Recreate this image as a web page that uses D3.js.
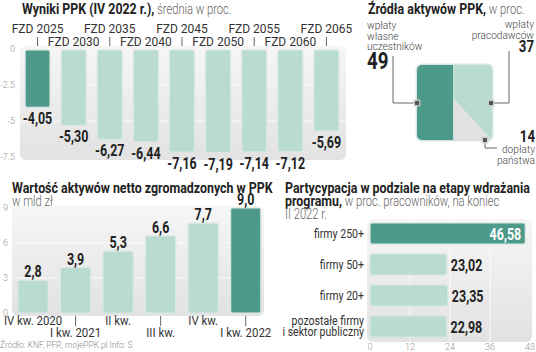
<!DOCTYPE html>
<html>
<head>
<meta charset="utf-8">
<style>
  body { margin: 0; background: #fff; }
  svg { display: block; }
  text { font-family: Roboto, sans-serif; }
  .t1 { font-weight: bold; font-size: 15.5px; fill: #222; }
  .t2 { font-size: 14px; fill: #666; font-weight: 300; }
  .lab { font-size: 12px; fill: #333; }
  .note { font-size: 11.5px; fill: #444; font-weight: 300; }
  .tick { font-size: 9px; fill: #999; font-weight: 300; }
  .val { font-weight: bold; font-size: 16px; fill: #222; }
</style>
</head>
<body>
<svg width="536" height="352"></svg>
<script src="https://d3js.org/d3.v7.min.js"></script>
<script>
const fundLabels = ["FZD 2025", "FZD 2030", "FZD 2035", "FZD 2040", "FZD 2045", "FZD 2050", "FZD 2055", "FZD 2060", "FZD 2065"];
const fundValues = [-4.05, -5.30, -6.27, -6.44, -7.16, -7.19, -7.14, -7.12, -5.69];
const fundTicks = [0, -2.5, -5, -7.5];

const sourceLabels = [["wpłaty", "własne", "uczestników"], ["wpłaty", "pracodawców"], ["dopłaty", "państwa"]];
const sourceValues = [49, 37, 14];

const assetLabels = ["IV kw. 2020", "I kw. 2021", "II kw.", "III kw.", "IV kw.", "I kw. 2022"];
const assetValues = [2.8, 3.9, 5.3, 6.6, 7.7, 9.0];
const assetTicks = [0, 3, 6, 9];

const partLabels = [["firmy 250+"], ["firmy 50+"], ["firmy 20+"], ["pozostałe firmy", "i sektor publiczny"]];
const partValues = [46.58, 23.02, 23.35, 22.98];
const partTicks = [0, 12, 24, 36, 48];

const dark = "#4d9a8a", light = "#b9dbd2", edge = "#d9e7e3";
const K = 0.78; // narrow look of the bold numbers and titles
const comma = (f) => (v) => d3.format(f)(v).replace(".", ",").replace("−", "-");
const tr = (x, y, k) => `translate(${x},${y}) scale(${k},1)`;

const svg = d3.select("svg");

// background gradient
const defs = svg.append("defs");
const grad = defs.append("linearGradient").attr("id", "bg").attr("x1", 0).attr("y1", 0).attr("x2", 0).attr("y2", 1);
grad.append("stop").attr("offset", "0%").attr("stop-color", "#f6f6f6");
grad.append("stop").attr("offset", "100%").attr("stop-color", "#e2e2e2");

function title(g, x, y, lines) {
  lines.forEach((ln, i) => {
    const t = g.append("text").attr("transform", tr(x, y + i * 13, 0.8));
    if (ln[0]) t.append("tspan").attr("class", "t1").text(ln[0]);
    if (ln[1]) t.append("tspan").attr("class", "t2").text(ln[1]);
  });
}

// ---- panel 1: fund results
{
  const g = svg.append("g");
  title(g, 22, 14, [["Wyniki PPK (IV 2022 r.),", " średnia w proc."]]);

  const x = d3.scaleBand().domain(fundLabels).range([19.5, 344.5]).paddingInner(0.31).paddingOuter(0.155);
  const y = d3.scaleLinear().domain([-7.5, 0]).range([157, 49]);

  g.append("rect").attr("x", 20).attr("y", 46).attr("width", 326).attr("height", 114)
    .attr("rx", 6).attr("fill", "url(#bg)");

  g.selectAll(".grid").data(fundTicks.slice(1, 3)).join("line")
    .attr("x1", 20).attr("x2", 346).attr("y1", d => y(d)).attr("y2", d => y(d))
    .attr("stroke", "#fff").attr("stroke-width", 0.8);

  g.selectAll(".tk").data(fundTicks).join("text").attr("class", "tick")
    .attr("x", 15).attr("y", d => y(d) + 3).attr("text-anchor", "end")
    .text(d => d);

  g.selectAll(".bar").data(fundValues).join("rect")
    .attr("x", (d, i) => x(fundLabels[i])).attr("width", x.bandwidth())
    .attr("y", y(0) + 1).attr("height", d => y(d) - y(0) - 1)
    .attr("rx", 2).attr("fill", (d, i) => i === 0 ? dark : light)
    .attr("stroke", edge).attr("stroke-width", 1.2);

  g.selectAll(".v").data(fundValues).join("text").attr("class", "val")
    .attr("transform", (d, i) => tr(x(fundLabels[i]) + x.bandwidth() / 2, y(d) + 17, K))
    .attr("text-anchor", "middle")
    .text(comma(".2f"));

  fundLabels.forEach((l, i) => {
    const cx = x(l) + x.bandwidth() / 2;
    const ty = i % 2 === 0 ? 33 : 46;
    g.append("text").attr("class", "lab").attr("x", cx).attr("y", ty).attr("text-anchor", "middle").text(l);
    if (i % 2 === 0) g.append("line").attr("x1", cx).attr("x2", cx).attr("y1", 37).attr("y2", 46).attr("stroke", "#666");
  });
}

// ---- panel 2: sources square
{
  const g = svg.append("g");
  title(g, 368, 14, [["Źródła aktywów PPK,", " w proc."]]);
  const S = 75, x0 = 417, y0 = 65;
  const total = d3.sum(sourceValues);
  const sx = d3.scaleLinear().domain([0, total]).range([0, S]);
  const wA = sx(sourceValues[0]);
  const wB = S - wA;
  const hC = 2 * (sourceValues[2] / total) * S * S / wB;

  g.append("rect").attr("x", x0 - 1.5).attr("y", y0 - 1.5).attr("width", S + 3).attr("height", S + 3).attr("rx", 6).attr("fill", edge);
  const clip = defs.append("clipPath").attr("id", "sq");
  clip.append("rect").attr("x", x0).attr("y", y0).attr("width", S).attr("height", S).attr("rx", 5);
  const sq = g.append("g").attr("clip-path", "url(#sq)");
  sq.append("rect").attr("x", x0).attr("y", y0).attr("width", wA).attr("height", S).attr("fill", dark);
  sq.append("rect").attr("x", x0 + wA).attr("y", y0).attr("width", wB).attr("height", S).attr("fill", light);
  sq.append("path").attr("d", d3.line()([[x0 + wA, y0 + S - hC], [x0 + S, y0 + S], [x0 + wA, y0 + S]]) + "Z").attr("fill", "#e2e2e2");
  sq.append("line").attr("x1", x0 + wA).attr("x2", x0 + wA).attr("y1", y0).attr("y2", y0 + S).attr("stroke", edge).attr("stroke-width", 1);

  const leaders = [
    [[393, 56], [393, 103], [x0, 103]],
    [[509, 51], [509, 103], [x0 + S - 1, 103]],
    [[497, 148], [485, 148], [485, 140]]
  ];
  leaders.forEach(p => {
    g.append("path").attr("d", d3.line()(p)).attr("fill", "none").attr("stroke", "#555").attr("stroke-width", 0.9);
    const e = p[p.length - 1];
    g.append("rect").attr("x", e[0] - 3.5).attr("y", e[1] - 3.5).attr("width", 7).attr("height", 7).attr("fill", "#ccc").attr("opacity", 0.8);
    g.append("rect").attr("x", e[0] - 2).attr("y", e[1] - 2).attr("width", 4).attr("height", 4).attr("fill", "#555");
  });

  const lp = [
    { x: 367, y: 29, anchor: "start", vy: 69, size: 24 },
    { x: 534, y: 28, anchor: "end", vy: 52, size: 17 },
    { x: 535, y: 153, anchor: "end", vy: 142, size: 17 }
  ];
  sourceLabels.forEach((lines, i) => {
    lines.forEach((ln, j) => {
      g.append("text").attr("class", "note")
        .attr("transform", tr(lp[i].x, lp[i].y + j * 10.5, 0.88))
        .attr("text-anchor", lp[i].anchor).text(ln);
    });
    g.append("text").attr("class", "val").style("font-size", lp[i].size + "px")
      .attr("transform", tr(lp[i].x, lp[i].vy, K))
      .attr("text-anchor", lp[i].anchor).text(sourceValues[i]);
  });
}

// ---- panel 3: net assets
{
  const g = svg.append("g");
  title(g, 12, 193, [["Wartość aktywów netto zgromadzonych w PPK", ""], ["", "w mld zł"]]);
  const x = d3.scaleBand().domain(assetLabels).range([11.75, 267]).paddingInner(0.29).paddingOuter(0.145);
  const y = d3.scaleLinear().domain([0, 9]).range([313, 208]);

  g.append("rect").attr("x", 12).attr("y", 206).attr("width", 252).attr("height", 110).attr("rx", 6).attr("fill", "url(#bg)");
  g.selectAll(".grid").data(assetTicks.slice(1, 3)).join("line")
    .attr("x1", 12).attr("x2", 264).attr("y1", d => y(d)).attr("y2", d => y(d))
    .attr("stroke", "#fff").attr("stroke-width", 0.8);

  g.selectAll(".tk").data(assetTicks).join("text").attr("class", "tick")
    .attr("x", 8).attr("y", d => y(d) + 3).attr("text-anchor", "end").text(d => d);

  g.selectAll(".bar").data(assetValues).join("rect")
    .attr("x", (d, i) => x(assetLabels[i])).attr("width", x.bandwidth())
    .attr("y", d => y(d)).attr("height", d => y(0) - y(d))
    .attr("rx", 2).attr("fill", (d, i) => i === assetValues.length - 1 ? dark : light)
    .attr("stroke", edge).attr("stroke-width", 1.2);

  g.selectAll(".v").data(assetValues).join("text").attr("class", "val")
    .attr("transform", (d, i) => tr(x(assetLabels[i]) + x.bandwidth() / 2, y(d) - 3, K))
    .attr("text-anchor", "middle").text(comma(".1f"));

  assetLabels.forEach((l, i) => {
    const cx = x(l) + x.bandwidth() / 2;
    const ty = i % 2 === 0 ? 325 : 337;
    g.append("text").attr("class", "lab").attr("transform", tr(cx, ty, 0.95)).attr("text-anchor", "middle").text(l);
    if (i % 2 === 1) g.append("line").attr("x1", cx).attr("x2", cx).attr("y1", 316).attr("y2", 326).attr("stroke", "#666");
  });

  g.append("text").attr("class", "tick").style("fill", "#888").style("font-size", "9.5px")
    .attr("transform", tr(0, 348, 0.88))
    .text("Źródło: KNF, PFR, mojePPK.pl  Info: S");
}

// ---- panel 4: participation
{
  const g = svg.append("g");
  title(g, 285, 193, [["Partycypacja w podziale na etapy wdrażania", ""], ["programu,", " w proc. pracowników, na koniec"], ["", "II 2022 r."]]);
  const y = d3.scaleBand().domain(d3.range(partValues.length)).range([218, 342]).paddingInner(0.32).paddingOuter(0.16);
  const x = d3.scaleLinear().domain([0, 48]).range([370, 530]);

  g.append("rect").attr("x", 367).attr("y", 219).attr("width", 165).attr("height", 123).attr("rx", 6).attr("fill", "url(#bg)");
  g.selectAll(".grid").data(partTicks.slice(1, 4)).join("line")
    .attr("x1", d => x(d)).attr("x2", d => x(d)).attr("y1", 219).attr("y2", 342)
    .attr("stroke", "#fff").attr("stroke-width", 0.8);

  g.selectAll(".tk").data(partTicks).join("text").attr("class", "tick")
    .attr("x", d => x(d)).attr("y", 350).attr("text-anchor", "middle").text(d => d);

  g.selectAll(".bar").data(partValues).join("rect")
    .attr("x", x(0)).attr("y", (d, i) => y(i)).attr("height", y.bandwidth())
    .attr("width", d => x(d) - x(0)).attr("rx", 2)
    .attr("fill", (d, i) => i === 0 ? dark : light)
    .attr("stroke", edge).attr("stroke-width", 1.2);

  g.selectAll(".v").data(partValues).join("text").attr("class", "val")
    .attr("transform", (d, i) => tr(i === 0 ? x(d) - 4 : x(d) + 4, y(i) + y.bandwidth() / 2 + 6, K))
    .attr("text-anchor", (d, i) => i === 0 ? "end" : "start")
    .style("fill", (d, i) => i === 0 ? "#fff" : "#222")
    .text(comma(".2f"));

  partLabels.forEach((lines, i) => {
    const cy = y(i) + y.bandwidth() / 2;
    lines.forEach((ln, j) => {
      g.append("text").attr("class", "lab").attr("text-anchor", "end")
        .attr("transform", tr(364, cy + 4 + (j - (lines.length - 1) / 2) * 11, 0.88)).text(ln);
    });
  });
}
</script>
</body>
</html>
